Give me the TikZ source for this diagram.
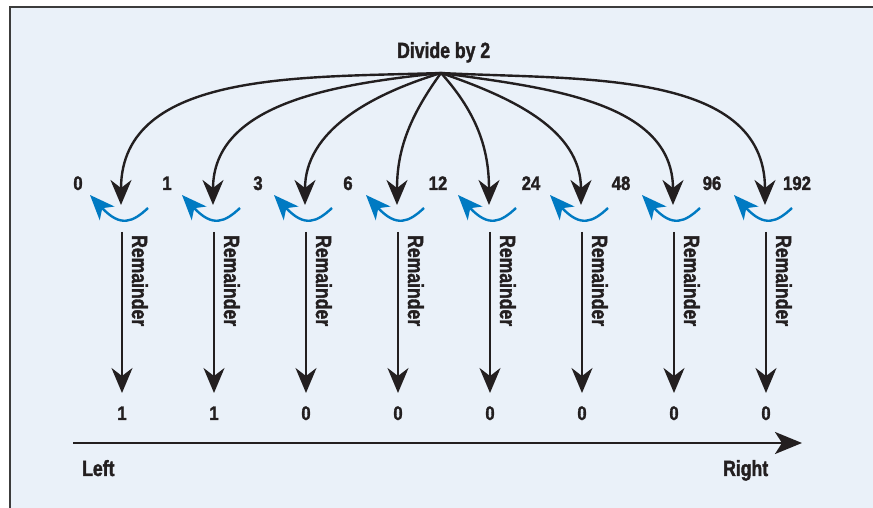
\documentclass[tikz,border=0pt]{standalone}
\usepackage{fontspec}
\setmainfont{Liberation Sans}
\newfontfamily\numfont{Liberation Sans}[FakeStretch=0.86, BoldFeatures={FakeBold=1.6}]
\newfontfamily\wordfont{Liberation Sans}[FakeStretch=0.80, BoldFeatures={FakeBold=1.6}]
\usetikzlibrary{arrows.meta}
\definecolor{bgblue}{RGB}{234,241,249}
\definecolor{arcblue}{RGB}{0,122,194}
\definecolor{ink}{RGB}{35,31,32}
\definecolor{frame}{RGB}{60,60,60}
\tikzset{
  lab/.style={font=\fontsize{22}{24}\selectfont\wordfont\bfseries, text=ink, inner sep=0pt},
  num/.style={font=\fontsize{19.5}{21}\selectfont\numfont\bfseries, text=ink, inner sep=0pt, anchor=base},
  bigcurve/.style={draw=ink, line width=2.4pt, -{Stealth[length=25pt,width=21pt,inset=8pt]}},
  downarrow/.style={draw=ink, line width=2.2pt, -{Stealth[length=25pt,width=21pt,inset=8pt]}},
  bluearc/.style={draw=arcblue, line width=2.4pt, -{Stealth[length=25pt,width=20pt,inset=7pt]}},
  axisarrow/.style={draw=ink, line width=2.4pt, -{Stealth[length=27pt,width=22pt,inset=7pt]}},
}
\begin{document}
\begin{tikzpicture}[x=1pt,y=1pt]
\useasboundingbox (0,0) rectangle (873,508);
% panel
\fill[bgblue] (10,0) rectangle (873,501);
\draw[frame, line width=1.5pt] (10,0) -- (10,501) -- (873,501);
% title
\node[lab, anchor=base west] (div) at (397,450) {Divide by 2};
\coordinate (o) at (441,435);
% top numbers
\node[num] (n0) at (78,318) {0};
\node[num] (n1) at (167,318) {1};
\node[num] (n2) at (258,318) {3};
\node[num] (n3) at (348,318) {6};
\node[num] (n4) at (438,318) {12};
\node[num] (n5) at (531,318) {24};
\node[num] (n6) at (621,318) {48};
\node[num] (n7) at (712,318) {96};
\node[num] (n8) at (797,318) {192};
% columns
\foreach \i/\c/\o in {1/121/182,2/213/186,3/305/197,4/397/234,5/489/-48,6/581/-19,7/673/-8,8/765/-3}{
  \coordinate (t\i) at (\c,303);
  \coordinate (s\i) at (\c+1,276);
  \coordinate (e\i) at (\c+1,115);
  \coordinate (ba\i) at (\c+27,300);
  \coordinate (bb\i) at (\c-31,313);
  \draw[bigcurve] (o) to[out=\o,in=90] (t\i);
  \draw[bluearc] (ba\i) .. controls +(-15,-14) and +(30.7,-33) .. (bb\i);
  \draw[downarrow] (s\i) -- (e\i);
  \node[lab, rotate=-90, anchor=base west] (rm\i) at (\c+11,273) {Remainder};
}
% bottom numbers
\node[num] (b1) at (122,88) {1};
\node[num] (b2) at (214,88) {1};
\node[num] (b3) at (306,88) {0};
\node[num] (b4) at (398,88) {0};
\node[num] (b5) at (490,88) {0};
\node[num] (b6) at (582,88) {0};
\node[num] (b7) at (674,88) {0};
\node[num] (b8) at (766,88) {0};
% axis
\coordinate (L) at (73,65);
\coordinate (R) at (802,65);
\draw[axisarrow] (L) -- (R);
\node[lab, anchor=base west] (left) at (82,32) {Left};
\node[lab, anchor=base west] (right) at (723,32) {Right};
\end{tikzpicture}
\end{document}
